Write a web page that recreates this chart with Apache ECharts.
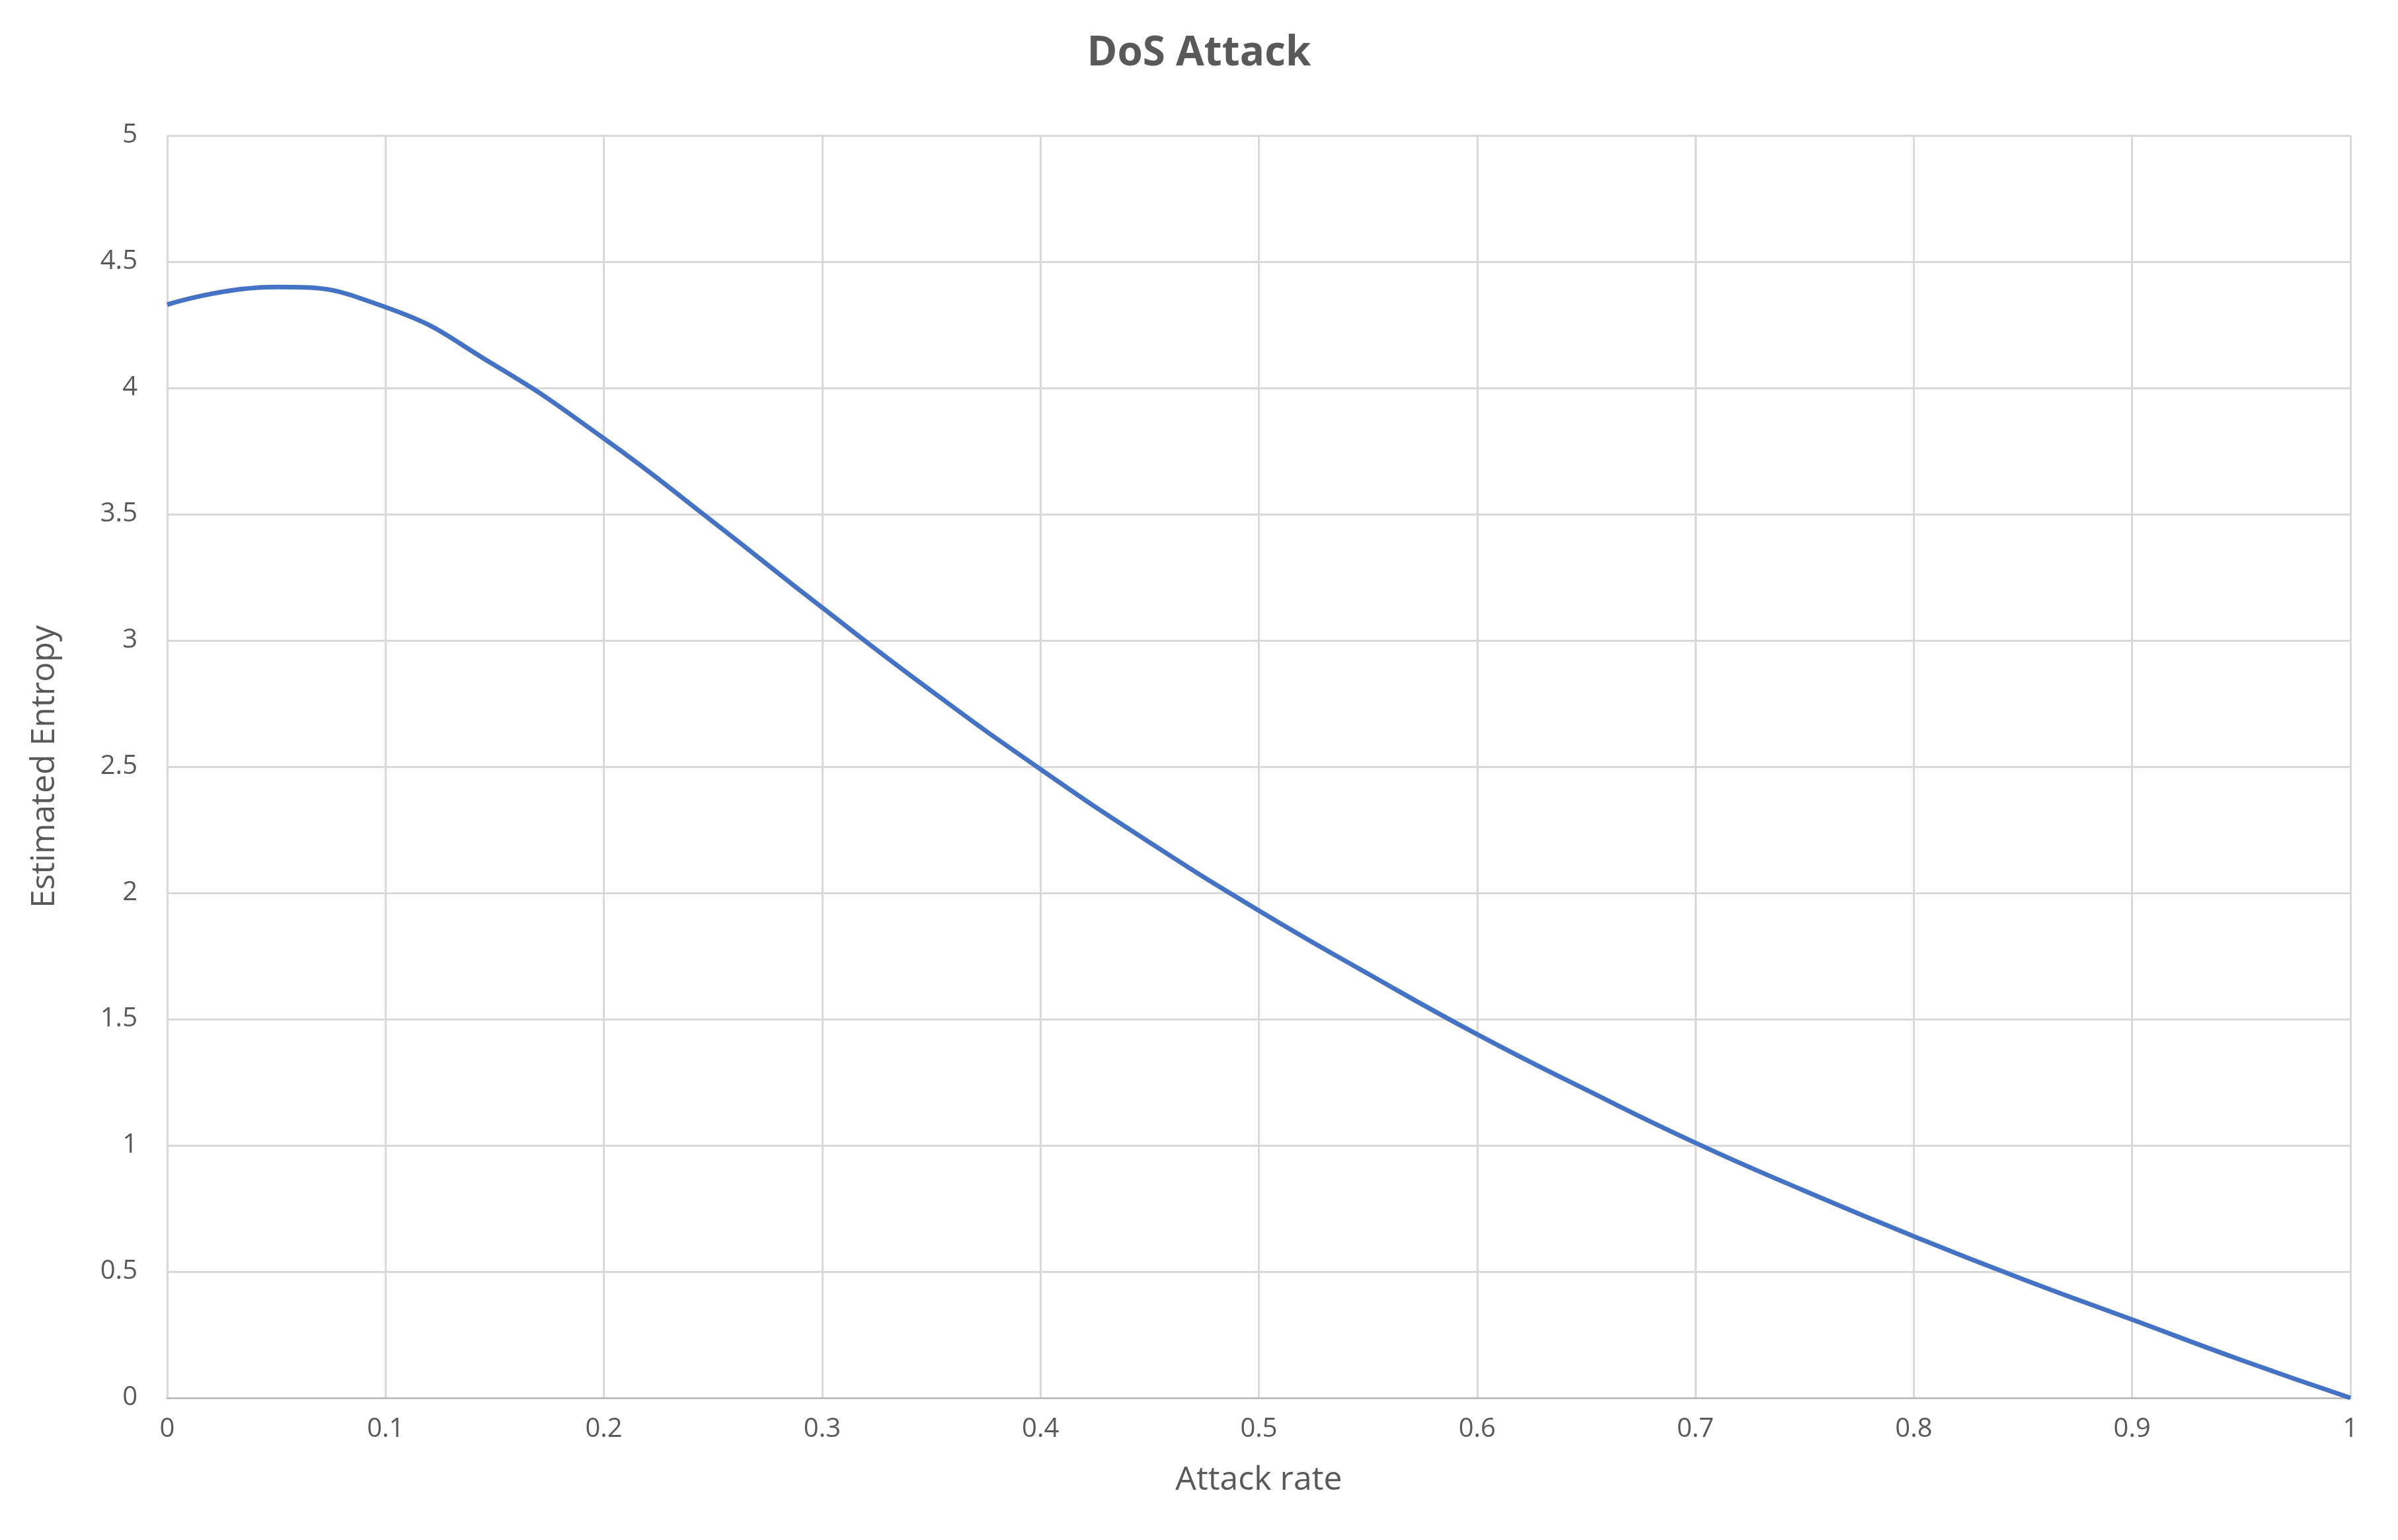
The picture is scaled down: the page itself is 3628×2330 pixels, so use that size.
<!DOCTYPE html>
<html>
<head>
<meta charset="UTF-8">
<script src="https://cdn.jsdelivr.net/npm/echarts@6/dist/echarts.min.js"></script>
<style>
html,body{margin:0;width:100%;height:100%;background:#fff;}
#chart{width:3628px;height:2330px;}
</style>
</head>
<body>
<div id="chart"></div>
<script>
const attackRate = [0,0.05,0.1,0.15,0.2,0.25,0.3,0.35,0.4,0.45,0.5,0.55,0.6,0.65,0.7,0.75,0.8,0.85,0.9,0.95,1];
const entropy = [4.33,4.40,4.32,4.09,3.80,3.47,3.13,2.80,2.49,2.20,1.93,1.68,1.44,1.22,1.01,0.82,0.64,0.47,0.31,0.15,0.0];

const chart = echarts.init(document.getElementById('chart'));
const font = 'Open Sans';
chart.setOption({
  animation: false,
  title: {text: 'DoS Attack', left: 'center', top: 45,
    textStyle: {fontFamily: font, fontSize: 62, fontWeight: 'bold', color: '#595959'}},
  grid: {left: 253, right: 72, top: 205, bottom: 215},
  xAxis: {type: 'value', min: 0, max: 1, interval: 0.1,
    name: 'Attack rate', nameLocation: 'middle', nameGap: 100,
    nameTextStyle: {fontFamily: font, fontSize: 50, color: '#595959'},
    axisLine: {lineStyle: {color: '#bfbfbf', width: 3}}, axisTick: {show: false},
    axisLabel: {fontFamily: font, fontSize: 40, color: '#595959', margin: 28},
    splitLine: {show: true, lineStyle: {color: '#d9d9d9', width: 3}}},
  yAxis: {type: 'value', min: 0, max: 5, interval: 0.5,
    name: 'Estimated Entropy', nameLocation: 'middle', nameGap: 160,
    nameTextStyle: {fontFamily: font, fontSize: 50, color: '#595959'},
    axisLine: {show: false}, axisTick: {show: false},
    axisLabel: {fontFamily: font, fontSize: 40, color: '#595959', margin: 45},
    splitLine: {lineStyle: {color: '#d9d9d9', width: 3}}},
  series: [{type: 'line', smooth: 0.5, showSymbol: false,
    lineStyle: {color: '#4472c4', width: 7},
    data: attackRate.map((x, i) => [x, entropy[i]])}]
});
</script>
</body>
</html>
